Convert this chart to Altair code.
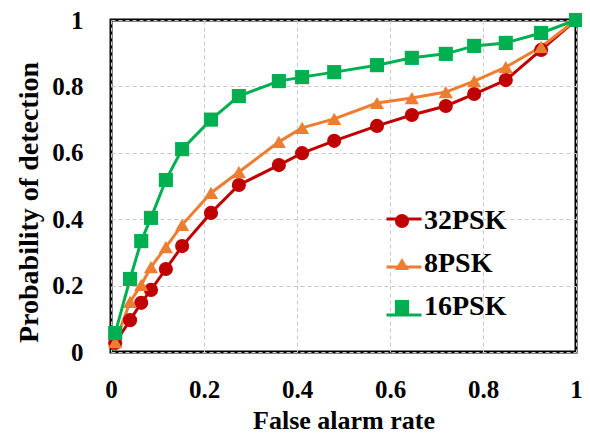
import altair as alt
import pandas as pd

series_names = ["32PSK", "8PSK", "16PSK"]
series_colors = ["#C00000", "#ED7D31", "#00B050"]
series_shapes = ["circle", "triangle-up", "square"]

far = [0.009, 0.041, 0.065, 0.086, 0.118, 0.153, 0.215, 0.275, 0.361,
       0.411, 0.48, 0.572, 0.647, 0.72, 0.781, 0.849, 0.925, 1.0]
pd_32psk = [0.027, 0.096, 0.148, 0.187, 0.25, 0.319, 0.419, 0.503, 0.563,
            0.599, 0.636, 0.681, 0.714, 0.741, 0.777, 0.819, 0.91, 1.0]
pd_8psk = [0.03, 0.151, 0.202, 0.256, 0.316, 0.383, 0.479, 0.542, 0.633,
           0.675, 0.702, 0.75, 0.765, 0.783, 0.816, 0.858, 0.919, 1.0]
pd_16psk = [0.057, 0.22, 0.334, 0.404, 0.518, 0.611, 0.70, 0.771, 0.816,
            0.828, 0.843, 0.864, 0.886, 0.898, 0.922, 0.931, 0.961, 1.0]

tick_values = [0, 0.2, 0.4, 0.6, 0.8, 1]

rows = []
for name, ys in zip(series_names, [pd_32psk, pd_8psk, pd_16psk]):
    for i, (x, y) in enumerate(zip(far, ys)):
        rows.append({"series": name, "far": x, "pd": y, "order": i})
df = pd.DataFrame(rows)

FONT = "Liberation Serif"

x_enc = alt.X("far:Q", scale=alt.Scale(domain=[0, 1], nice=False),
              axis=alt.Axis(values=tick_values, format="~g", title="False alarm  rate",
                            grid=True, gridDash=[4, 3], gridColor="#c8c8c8",
                            ticks=False, domain=False, labelFont=FONT,
                            labelFontSize=25, labelFontWeight="bold", labelColor="black",
                            labelPadding=25, titleFont=FONT, titleFontSize=26,
                            titleFontWeight="bold", titleColor="black", titlePadding=5,
                            labelFlush=False))
y_enc = alt.Y("pd:Q", scale=alt.Scale(domain=[0, 1], nice=False),
              axis=alt.Axis(values=tick_values, format="~g", title="Probability  of detection",
                            grid=True, gridDash=[4, 3], gridColor="#c8c8c8",
                            ticks=False, domain=False, labelFont=FONT,
                            labelFontSize=25, labelFontWeight="bold", labelColor="black",
                            labelPadding=28, titleFont=FONT, titleFontSize=28,
                            titleFontWeight="bold", titleColor="black", titlePadding=8,
                            titleY=182, labelFlush=False))

line_legend = alt.Legend(title=None, orient="none", legendX=274, legendY=180,
                         symbolType="stroke", symbolSize=1225, symbolStrokeWidth=3,
                         labelFont=FONT, labelFontSize=28, labelFontWeight="bold",
                         labelExpr="''", rowPadding=15, padding=0)
point_legend = alt.Legend(title=None, orient="none", legendX=277, legendY=187,
                          symbolSize=200, labelFont=FONT, labelFontSize=28,
                          labelFontWeight="bold", labelColor="black", labelOffset=8,
                          rowPadding=15, padding=0, symbolOpacity=1)

color_scale = alt.Scale(domain=series_names, range=series_colors)

lines = alt.Chart(df).mark_line(strokeWidth=3).encode(
    x=x_enc, y=y_enc,
    color=alt.Color("series:N", scale=color_scale, legend=line_legend),
    order="order:Q",
)
points = alt.Chart(df).mark_point(filled=True, size=200, opacity=1).encode(
    x=x_enc, y=y_enc,
    color=alt.Color("series:N", scale=color_scale, legend=point_legend),
    shape=alt.Shape("series:N", scale=alt.Scale(domain=series_names, range=series_shapes),
                    legend=point_legend),
)

chart = alt.layer(lines, points).resolve_scale(
    color="independent", shape="independent"
).properties(
    width=465, height=332,
    background="white",
    autosize=alt.AutoSizeParams(type="none"),
    padding={"left": 103, "top": 12, "right": 6, "bottom": 82},
).configure_view(stroke="black", strokeWidth=3)

chart.save("out.html", embed_options={"renderer": "svg", "actions": False})
